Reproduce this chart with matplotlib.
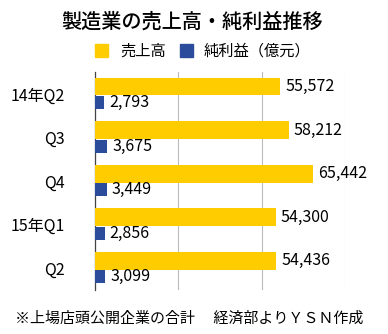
import matplotlib.pyplot as plt
import numpy as np

plt.rcParams['font.family'] = ['Noto Sans CJK JP', 'DejaVu Sans']

# 四半期データ（億元）
quarters = ['14年Q2', 'Q3', 'Q4', '15年Q1', 'Q2']
sales = [55572, 58212, 65442, 54300, 54436]
profit = [2793, 3675, 3449, 2856, 3099]

yellow = '#FFCC00'
blue = '#2B4C9B'

fig = plt.figure(figsize=(3.88, 3.34), dpi=100)
ax = fig.add_axes([0.245, 0.132, 0.644, 0.652])

y = np.arange(len(quarters))
ax.barh(y - 0.17, sales, height=0.41, color=yellow, zorder=3)
ax.barh(y + 0.2, profit, height=0.3, color=blue, zorder=3)

for i in range(len(quarters)):
    ax.text(sales[i] + 1500, y[i] - 0.17, f'{sales[i]:,}', va='center', ha='left', fontsize=11.5)
    ax.text(profit[i] + 1500, y[i] + 0.2, f'{profit[i]:,}', va='center', ha='left', fontsize=11.5)

ax.set_xlim(0, 75000)
ax.set_ylim(4.5, -0.5)
ax.set_xticks([0, 25000, 50000, 75000])
ax.set_xticklabels([])
ax.tick_params(axis='x', length=0)
ax.set_yticks(y)
ax.set_yticklabels(quarters, fontsize=11.5)
ax.tick_params(axis='y', length=0, pad=22)
ax.grid(axis='x', color='#bbbbbb', linewidth=0.8, zorder=0)
for s in ['top', 'right', 'bottom']:
    ax.spines[s].set_visible(False)
ax.spines['left'].set_color('#444444')
ax.spines['left'].set_linewidth(0.9)

fig.text(0.495, 0.934, '製造業の売上高・純利益推移', ha='center', va='center',
         fontsize=14.5, fontweight='medium')

# 凡例
fig.patches.append(plt.Rectangle((95 / 388, 1 - 57 / 334), 13 / 388, 13 / 334,
                                 transform=fig.transFigure, color=yellow))
fig.text(120 / 388, 1 - 51 / 334, '売上高', va='center', ha='left', fontsize=11)
fig.patches.append(plt.Rectangle((180 / 388, 1 - 57 / 334), 13 / 388, 13 / 334,
                                 transform=fig.transFigure, color=blue))
fig.text(204 / 388, 1 - 51 / 334, '純利益（億元）', va='center', ha='left', fontsize=11)

fig.text(15 / 388, 1 - 319 / 334, '※上場店頭公開企業の合計　 経済部よりＹＳＮ作成',
         va='center', ha='left', fontsize=10.8)

plt.savefig('out.png', dpi=100)
